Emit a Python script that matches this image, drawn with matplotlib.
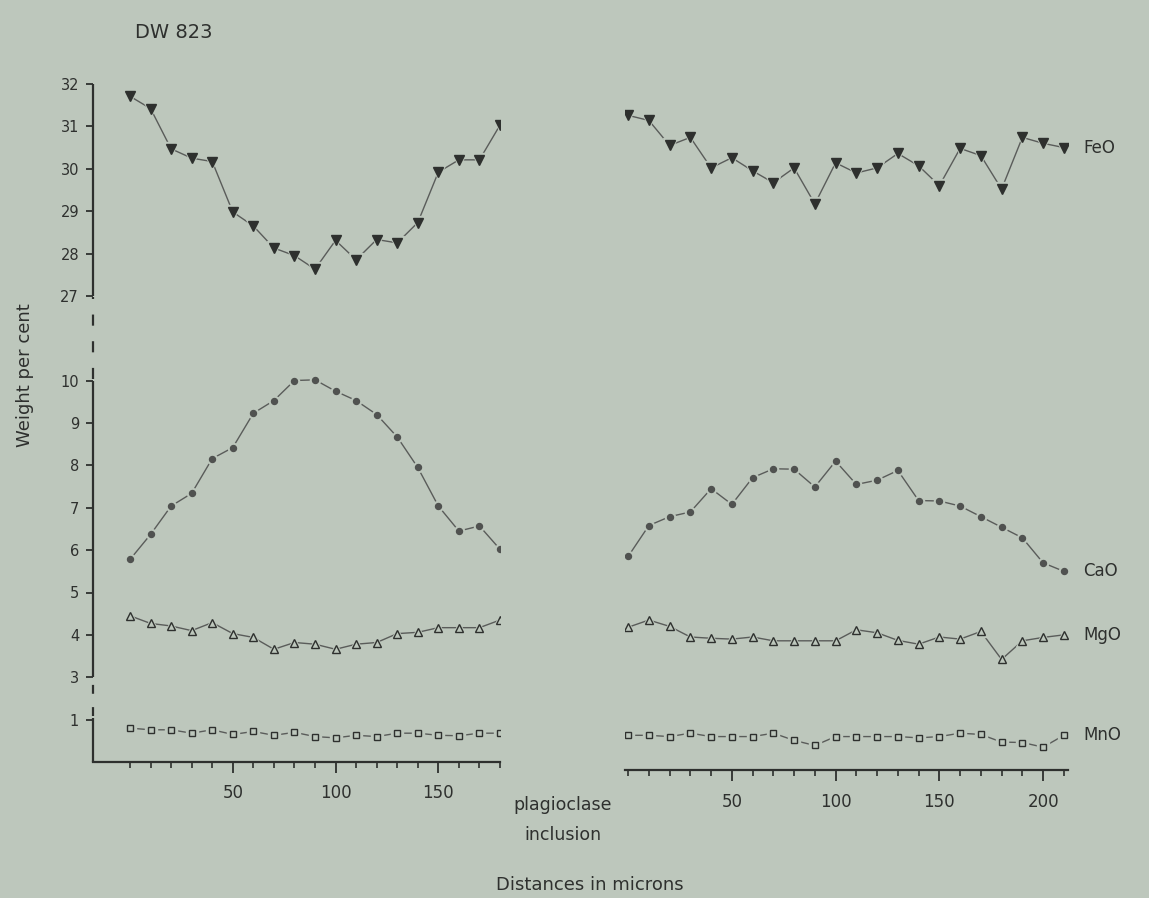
import numpy as np
import matplotlib
matplotlib.use("Agg")
import matplotlib.pyplot as plt

# distances along the two traverses (microns)
dist_left = [0, 10, 20, 30, 40, 50, 60, 70, 80, 90, 100, 110, 120, 130, 140, 150, 160, 170, 180]
dist_right = [0, 10, 20, 30, 40, 50, 60, 70, 80, 90, 100, 110, 120, 130, 140, 150, 160, 170, 180, 190, 200, 210]

# weight per cent
feo_left = [31.71, 31.42, 30.47, 30.25, 30.17, 28.98, 28.65, 28.13, 27.95, 27.63,
            28.31, 27.85, 28.33, 28.25, 28.73, 29.92, 30.21, 30.21, 31.03]
feo_right = [31.26, 31.14, 30.55, 30.74, 30.02, 30.26, 29.95, 29.67, 30.02, 29.17, 30.14,
             29.90, 30.02, 30.36, 30.07, 29.60, 30.48, 30.31, 29.52, 30.74, 30.60, 30.50]

cao_left = [5.78, 6.37, 7.04, 7.34, 8.16, 8.42, 9.23, 9.53, 10.02, 10.16,
            9.75, 9.53, 9.20, 8.67, 7.95, 7.04, 6.45, 6.57, 6.02]
cao_right = [5.85, 6.58, 6.79, 6.90, 7.45, 7.08, 7.71, 7.92, 7.91, 7.49, 8.10,
             7.55, 7.65, 7.88, 7.17, 7.16, 7.04, 6.79, 6.54, 6.29, 5.70, 5.50]

mgo_left = [4.45, 4.27, 4.21, 4.10, 4.29, 4.03, 3.94, 3.66, 3.82, 3.78,
            3.66, 3.78, 3.82, 4.03, 4.06, 4.17, 4.17, 4.17, 4.35]
mgo_right = [4.18, 4.35, 4.20, 3.95, 3.92, 3.90, 3.95, 3.86, 3.86, 3.86, 3.86,
             4.12, 4.05, 3.87, 3.78, 3.95, 3.90, 4.08, 3.42, 3.86, 3.94, 4.00]

mno_left = [0.80, 0.76, 0.76, 0.68, 0.76, 0.65, 0.72, 0.63, 0.70, 0.60,
            0.57, 0.63, 0.60, 0.68, 0.68, 0.63, 0.62, 0.68, 0.68]
mno_right = [0.63, 0.63, 0.60, 0.68, 0.60, 0.60, 0.60, 0.68, 0.51, 0.39, 0.60,
             0.60, 0.60, 0.60, 0.57, 0.60, 0.68, 0.65, 0.47, 0.46, 0.35, 0.63]

ytick_vals = [1, 3, 4, 5, 6, 7, 8, 9, 10, 27, 28, 29, 30, 31, 32]

bg = "#bdc7bc"
ink = "#2e302e"
line_col = "#5a5c5a"

# broken y axis: MnO, CaO/MgO and FeO bands squeezed together
brk_in = [0, 1, 3, 10, 27, 32, 40]
brk_out = [0, 1, 2, 9, 11, 16, 24]


def fwd(v):
    return np.interp(v, brk_in, brk_out)


def inv(v):
    return np.interp(v, brk_out, brk_in)


fig = plt.figure(figsize=(11.49, 8.98), dpi=100)
fig.patch.set_facecolor(bg)

W, H = 1149, 898
axL = fig.add_axes([93 / W, 1 - 762 / H, (500 - 93) / W, (762 - 84) / H])
axR = fig.add_axes([625 / W, 1 - 762 / H, (1068 - 625) / W, (762 - 84) / H])

series = [
    ("FeO", feo_left, feo_right, "v", 6.5, ink, ink),
    ("CaO", cao_left, cao_right, "o", 4.3, "#505250", "#505250"),
    ("MgO", mgo_left, mgo_right, "^", 5.5, bg, ink),
    ("MnO", mno_left, mno_right, "s", 5.0, bg, ink),
]

for ax, dist, xmax, xmin in [(axL, dist_left, 180, -18), (axR, dist_right, 212, -1.5)]:
    ax.set_facecolor("none")
    ax.set_yscale("function", functions=(fwd, inv))
    ax.set_ylim(0, 32)
    ax.set_xlim(xmin, xmax)
    for name, yl, yr, m, ms, fc, ec in series:
        y = yl if ax is axL else yr
        ax.plot(dist, y, color=line_col, lw=1.0, zorder=2)
        ax.plot(dist, y, ls="none", marker=m, ms=ms + 3, mfc=bg, mec=bg, zorder=3)
        ax.plot(dist, y, ls="none", marker=m, ms=ms, mfc=fc, mec=ec, mew=1.0, zorder=4)
        if ax is axR:
            ax.annotate(name, (dist[-1], y[-1]), xytext=(14, 0), textcoords="offset points",
                        va="center", ha="left", fontsize=12, color=ink,
                        annotation_clip=False)
    for s in ["top", "right", "left"]:
        ax.spines[s].set_visible(False)
    ax.spines["bottom"].set_color(ink)
    ax.spines["bottom"].set_linewidth(1.6)
    ax.set_xticks([t for t in dist if t % 50 == 0 and t > 0])
    ax.set_xticks(dist, minor=True)
    ax.tick_params(axis="x", which="major", direction="out", length=8, width=1.3,
                   colors=ink, labelsize=12, pad=8)
    ax.tick_params(axis="x", which="minor", direction="out", length=4.5, width=1.2, colors=ink)

axR.spines["bottom"].set_position(("outward", 6))
axR.set_yticks([])
axR.tick_params(axis="y", which="both", left=False, labelleft=False)

axL.set_yticks(ytick_vals)
axL.set_yticks([], minor=True)
axL.set_yticklabels([str(v) for v in ytick_vals])
axL.tick_params(axis="y", direction="out", length=5, width=1.3, colors=ink, labelsize=10.5, pad=5)

# left axis drawn in pieces, dashed across the breaks
trans = axL.get_yaxis_transform()
for lo, hi, ls in [(0, 1.1, "-"), (1.15, 2.9, (0, (4, 6))), (3, 10, "-"),
                   (10.3, 26.7, (0, (5, 7))), (27, 32, "-")]:
    axL.plot([0, 0], [lo, hi], transform=trans, color=ink, lw=1.6, ls=ls,
             clip_on=False, solid_capstyle="butt")

fig.text(135 / W, 1 - 32 / H, "DW 823", fontsize=14, color=ink, ha="left", va="center")
fig.text(25 / W, 1 - 375 / H, "Weight per cent", fontsize=13, color=ink, rotation=90,
         ha="center", va="center")
fig.text(563 / W, 1 - 805 / H, "plagioclase", fontsize=12.5, color=ink, ha="center", va="center")
fig.text(563 / W, 1 - 835 / H, "inclusion", fontsize=12.5, color=ink, ha="center", va="center")
fig.text(590 / W, 1 - 885 / H, "Distances in microns", fontsize=13, color=ink,
         ha="center", va="center")

fig.savefig("out.png", dpi=100, facecolor=bg)
